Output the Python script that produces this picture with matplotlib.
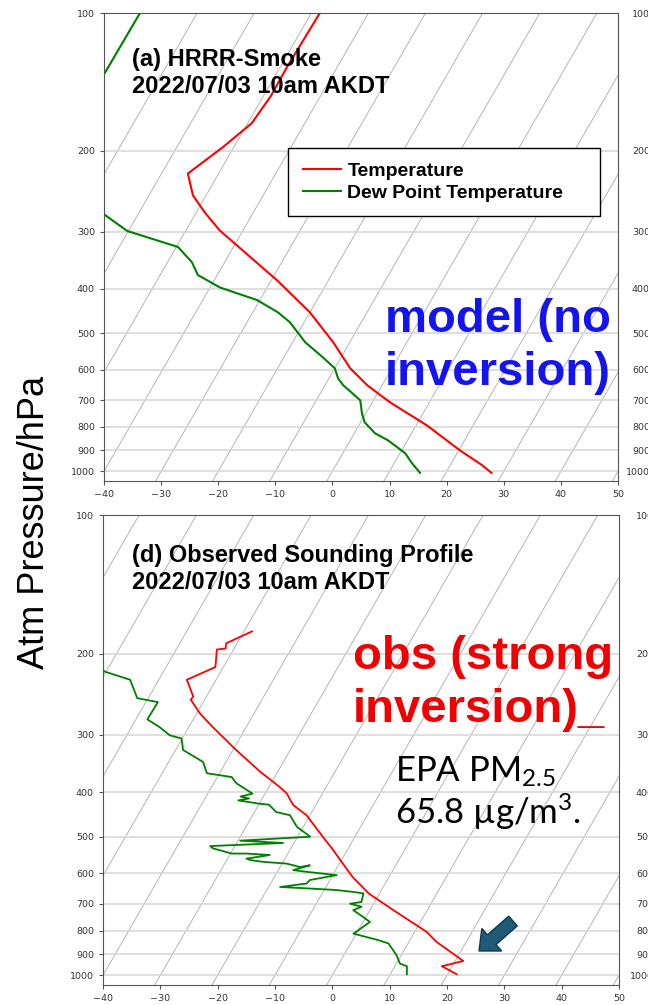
import numpy as np
import matplotlib.pyplot as plt
from matplotlib.patches import FancyArrow
from matplotlib.ticker import FixedLocator, NullLocator
from matplotlib.font_manager import FontProperties

plt.rcParams['mathtext.fontset'] = 'custom'
plt.rcParams['mathtext.rm'] = 'Lato'
plt.rcParams['mathtext.default'] = 'regular'

W, H = 648, 1005
SKEW = 46.3   # deg of x shift per decade of pressure

p_ticks = [100, 200, 300, 400, 500, 600, 700, 800, 900, 1000]
t_ticks = [-40, -30, -20, -10, 0, 10, 20, 30, 40, 50]

# (a) HRRR-Smoke model profile
model_t_p = [100, 131, 152, 174, 196, 224, 250, 273, 298, 326, 383, 450, 523,
             596, 649, 707, 794, 900, 970, 1008]
model_t = [-48.5, -48.8, -48.7, -49.3, -51.9, -55.4, -52.3, -48.4, -44.1, -38.7,
           -29.0, -20.0, -12.9, -7.3, -2.6, 3.1, 11.9, 20.2, 25.6, 28.0]
model_td_p = [100, 135, 200, 276, 299, 324, 350, 373, 397, 423, 450, 473, 523,
              564, 596, 627, 649, 700, 747, 782, 826, 856, 913, 960, 1008]
model_td = [-80.0, -80.1, -90.0, -65.7, -60.2, -49.7, -45.7, -43.4, -38.3, -30.5,
            -25.6, -22.5, -17.8, -13.2, -10.0, -8.4, -6.8, -2.3, -0.7, 0.7, 3.6,
            6.6, 10.9, 13.1, 15.5]

# (d) observed sounding
obs_t_p = [179, 190, 195, 196, 214, 228, 248, 252, 270, 289, 322, 361, 390, 403,
           420, 427, 449, 498, 535, 562, 611, 664, 722, 805, 846, 931, 956, 995]
obs_t = [-48.6, -51.9, -51.5, -52.9, -51.4, -55.1, -52.3, -52.4, -49.4, -45.8,
         -39.8, -33.1, -28.1, -26.2, -24.6, -23.9, -20.6, -15.8, -12.4, -10.2,
         -6.4, -1.9, 4.1, 12.1, 14.8, 21.4, 18.2, 21.6]
obs_td_p = [185, 219, 228, 250, 255, 278, 289, 301, 306, 324, 344, 364, 371, 383,
            403, 409, 413, 417, 424, 426, 442, 449, 476, 500, 510, 516, 524, 530,
            544, 544, 548, 558, 562, 567, 572, 582, 577, 591, 596, 606, 621, 632,
            643, 648, 653, 659, 664, 693, 699, 710, 722, 747, 766, 785, 812, 839,
            853, 905, 943, 956, 995]
obs_td = [-80.0, -70.2, -65.0, -61.9, -57.9, -58.0, -55.1, -52.5, -50.1, -48.7,
          -44.0, -42.2, -37.5, -36.0, -32.2, -34.0, -32.3, -34.0, -29.9, -28.2,
          -26.2, -23.5, -21.1, -17.8, -29.6, -21.9, -34.3, -33.6, -29.8, -27.2,
          -23.0, -26.7, -25.9, -23.5, -19.2, -16.5, -15.0, -17.4, -14.9, -9.3,
          -13.5, -13.7, -18.0, -12.6, -7.8, -4.8, -2.8, -2.3, -4.1, -1.8, -2.9,
          -0.5, 1.2, 0.5, -0.5, 4.5, 6.6, 9.2, 10.6, 12.1, 12.9]


def box(x0, y0, x1, y1):
    return [x0 / W, 1 - y1 / H, (x1 - x0) / W, (y1 - y0) / H]


def skew(t, p):
    return np.asarray(t, float) + SKEW * np.log10(1000.0 / np.asarray(p, float))


def setup(ax):
    pp = np.geomspace(1100, 90, 60)
    for t0 in range(-150, 60, 10):
        ax.plot(skew(t0, pp), pp, color='#b5b5b5', lw=0.7, zorder=1)
    ax.set_yscale('log')
    ax.set_ylim(1050, 100)
    ax.set_xlim(-40, 50)
    ax.yaxis.set_major_locator(FixedLocator(p_ticks))
    ax.yaxis.set_minor_locator(NullLocator())
    ax.set_yticklabels([str(p) for p in p_ticks])
    ax.set_xticks(t_ticks)
    ax.set_xticklabels([str(t).replace('-', '\u2212') for t in t_ticks])
    ax.grid(axis='y', color='#d6d6d6', lw=1.1, zorder=0)
    ax.tick_params(labelsize=6.8, labelcolor='#333333', color='#555555', length=3)
    for s in ax.spines.values():
        s.set_color('#555555')


fig = plt.figure(figsize=(W / 100, H / 100), dpi=100)

ax1 = fig.add_axes(box(104, 13, 618, 481))
setup(ax1)
ax1.plot(skew(model_t, model_t_p), model_t_p, color='red', lw=1.5, label='Temperature', zorder=3)
ax1.plot(skew(model_td, model_td_p), model_td_p, color='green', lw=1.5,
         label='Dew Point Temperature', zorder=3)

ax2 = fig.add_axes(box(103, 515, 619, 985))
setup(ax2)
ax2.plot(skew(obs_t, obs_t_p), obs_t_p, color='red', lw=1.3, zorder=3)
ax2.plot(skew(obs_td, obs_td_p), obs_td_p, color='green', lw=1.3, zorder=3)

# neighbouring panels cut off at the right edge
setup(fig.add_axes(box(659, 13, 1173, 481)))
setup(fig.add_axes(box(663, 515, 1179, 985)))

leg_font = FontProperties(family='Liberation Sans', weight='bold', size=14)
ax1.legend(loc='upper left', bbox_to_anchor=box(288, 148, 600, 215),
           bbox_transform=fig.transFigure, mode='expand', borderaxespad=0,
           prop=leg_font, fancybox=False, edgecolor='black', framealpha=1,
           handlelength=2.0, handletextpad=0.3, labelspacing=0.2, borderpad=0.75)
ax1.get_legend().get_frame().set_linewidth(1.0)

fig.text(132 / W, 1 - 48 / H, '(a) HRRR-Smoke\n2022/07/03 10am AKDT',
         family='Liberation Sans', weight='bold', size=17, va='top', ha='left')
fig.text(385 / W, 1 - 298 / H, 'model (no\ninversion)', family='Liberation Sans',
         weight='bold', size=34, color='#1414EE', va='top', ha='left', linespacing=1.25)

fig.text(132 / W, 1 - 544 / H, '(d) Observed Sounding Profile\n2022/07/03 10am AKDT',
         family='Liberation Sans', weight='bold', size=17, va='top', ha='left')
fig.text(353 / W, 1 - 635 / H, 'obs (strong\ninversion)_', family='Liberation Sans',
         weight='bold', size=34, color='#F00000', va='top', ha='left', linespacing=1.25)
fig.text(395 / W, 1 - 755 / H, 'EPA PM$_{2.5}$\n65.8 \u00b5g/m$^{3}$.',
         family=['Lato', 'DejaVu Sans'], size=25, va='top', ha='left', linespacing=1.08)

fig.text(35 / W, 1 - 522 / H, 'Atm Pressure/hPa', family='Liberation Sans', size=26,
         rotation=90, va='center', ha='center')

fig.add_artist(FancyArrow(5.13, (H - 921) / 100, -0.34, -0.30, width=0.13,
                          head_width=0.30, head_length=0.17, length_includes_head=True,
                          transform=fig.dpi_scale_trans, fc='#1E5A78', ec='#0D3B57', lw=1))

fig.savefig('out.png', dpi=100)
